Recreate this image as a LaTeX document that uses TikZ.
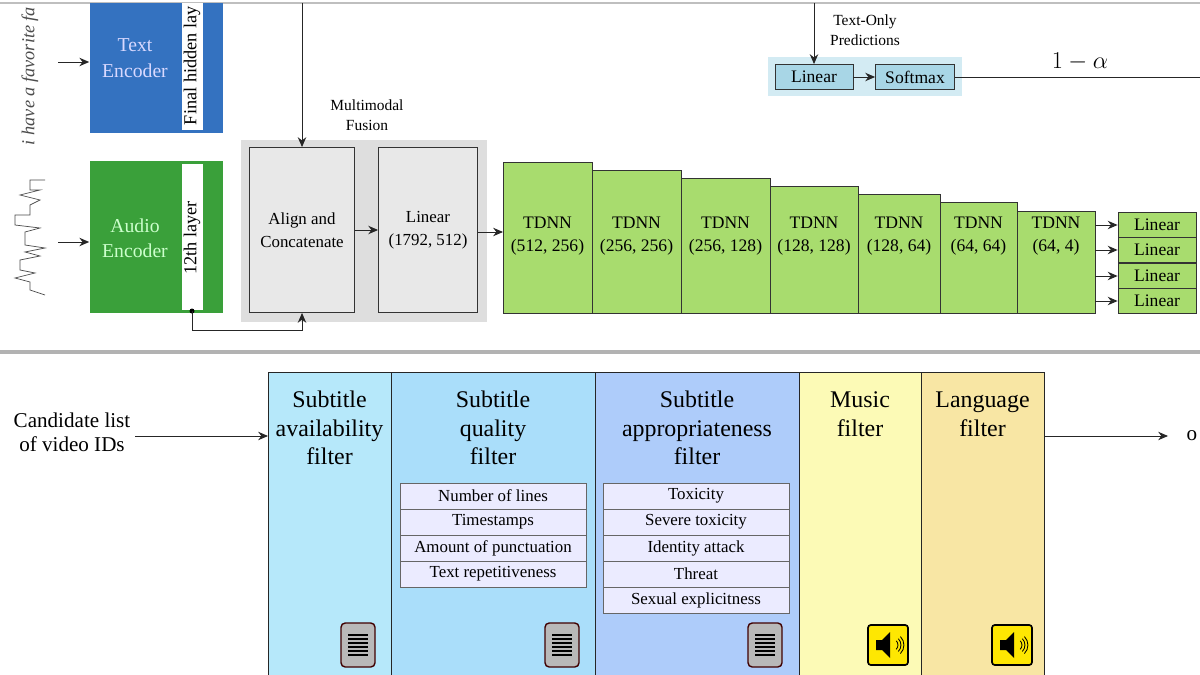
\documentclass[tikz,border=0pt]{standalone}
\usepackage{fontspec}
\setmainfont{Liberation Serif}
\usetikzlibrary{arrows.meta}
\definecolor{textblue}{RGB}{52,114,192}
\definecolor{audiogreen}{RGB}{58,160,58}
\definecolor{tdnngreen}{RGB}{168,220,110}
\definecolor{fusiongray}{RGB}{232,232,232}
\definecolor{predblue}{RGB}{168,214,230}
\definecolor{filtA}{RGB}{182,232,250}
\definecolor{filtB}{RGB}{170,222,250}
\definecolor{filtC}{RGB}{174,204,250}
\definecolor{filtD}{RGB}{252,250,182}
\definecolor{filtE}{RGB}{248,230,164}
\tikzset{
  box/.style={draw=black!80, line width=0.6pt, inner sep=0pt},
  arr/.style={-{Stealth[length=7pt,width=6pt]}, line width=0.7pt, black!85},
  item/.style={draw=black!60, fill=white!92!blue, minimum width=186\pxu, minimum height=26\pxu, inner sep=0pt, font=\fontsize{12}{14}\selectfont},
  ftitle/.style={align=center, font=\fontsize{17}{20}\selectfont},
}
\newcommand{\pxu}{*0.025cm}
\newcommand{\docicon}[2]{%
  \draw[draw=black!75!red, fill=gray!55, rounded corners=3pt, line width=1pt] (#1-17,#2-22) rectangle (#1+17,#2+22);
  \foreach \k in {-10,-6,...,10} \draw[line width=1.2pt] (#1-10,#2+\k) -- (#1+10,#2+\k);}
\newcommand{\spkicon}[2]{%
  \draw[fill=yellow!90!orange, rounded corners=2pt, line width=1.2pt] (#1-20,#2-20) rectangle (#1+20,#2+20);
  \fill (#1-12,#2-5) -- (#1-6,#2-5) -- (#1+2,#2-13) -- (#1+2,#2+13) -- (#1-6,#2+5) -- (#1-12,#2+5) -- cycle;
  \foreach \r in {6,9,12} \draw[line width=0.6pt] (#1+4+\r*0.7,#2-\r*0.7) arc[start angle=-45,end angle=45,radius=\r];}
\begin{document}
\begin{tikzpicture}[x=0.025cm, y=-0.025cm]
  \useasboundingbox (0,0) rectangle (1200,675);
  \clip (0,0) rectangle (1200,675);
  \fill[white] (0,0) rectangle (1200,675);
  % frame lines
  \draw[gray!50, line width=1pt] (0,3) -- (1200,3);
  \draw[gray!60, line width=2.5pt] (0,352) -- (1200,352);

  % encoders
  \node[fill=textblue, minimum width=133\pxu, minimum height=130\pxu] (tenc) at (156,68) {};
  \node[text=white!85!blue, align=center, font=\fontsize{14}{18}\selectfont] at (135,58) {Text\\Encoder};
  \node[fill=white, minimum width=21\pxu, minimum height=127\pxu, inner sep=0pt] (tlay) at (192,67) {};
  \node[rotate=90, anchor=west, font=\fontsize{13}{15}\selectfont] at (192,130) {Final hidden lay};
  \node[fill=audiogreen, minimum width=133\pxu, minimum height=151\pxu] (aenc) at (156,237) {};
  \node[text=white!80!green, align=center, font=\fontsize{14}{18}\selectfont] at (135,238) {Audio\\Encoder};
  \node[fill=white, minimum width=21\pxu, minimum height=145\pxu, inner sep=0pt] (alay) at (192,237) {};
  \node[rotate=90, font=\fontsize{13}{15}\selectfont] at (192,238) {12th layer};

  % inputs
  \node[rotate=90, anchor=west, font=\fontsize{13}{15}\itshape\selectfont, text=black!70] (tin) at (30,150) {i have a favorite fa};
  \draw[black!70, line width=0.5pt] (45,180) -- (30,180) -- (30,190) -- (40,190) -- (20,195) -- (40,200) -- (30,205) -- (30,215)
    -- (15,215) -- (15,225) -- (40,228) -- (25,232) -- (25,245) -- (45,248) -- (25,252) -- (40,256) -- (20,260) -- (20,270)
    -- (35,273) -- (15,278) -- (30,282) -- (30,290) -- (45,295);
  \coordinate (tsrc) at (58,62);
  \coordinate (asrc) at (58,242);
  \draw[arr] (tsrc) -- (tenc.west |- tsrc);
  \draw[arr] (asrc) -- (aenc.west |- asrc);

  % multimodal fusion
  \fill[fusiongray!90!gray] (241,140) rectangle (487,322);
  \node[align=center, font=\fontsize{11}{14}\selectfont] at (367,115) {Multimodal\\Fusion};
  \node[box, fill=fusiongray, minimum width=105\pxu, minimum height=165\pxu, align=center, font=\fontsize{12}{16}\selectfont] (align) at (302,230) {Align and\\Concatenate};
  \node[box, fill=fusiongray, minimum width=99\pxu, minimum height=165\pxu, align=center, font=\fontsize{12}{16}\selectfont] (fuse) at (428,230) {Linear\\(1792, 512)};
  \draw[arr] (align) -- (fuse);
  \coordinate (ttop) at (302,3);
  \draw[arr] (ttop) -- (align.north);
  \coordinate (adot) at (192,311);
  \fill (adot) circle (2.5);
  \draw[arr] (adot) -- (192,330) -| (align.south);

  % TDNN stack
  \foreach \n/\xa/\xb/\yt/\lab in {1/503/592/162/{(512, 256)}, 2/592/681/170/{(256, 256)}, 3/681/770/178/{(256, 128)},
      4/770/858/186/{(128, 128)}, 5/858/940/194/{(128, 64)}, 6/940/1017/202/{(64, 64)}, 7/1017/1095/211/{(64, 4)}}{
    \draw[fill=tdnngreen, draw=black!80, line width=0.6pt] (\xa,\yt) rectangle (\xb,313);
    \node[align=center, font=\fontsize{12.5}{16}\selectfont] (td\n) at ({(\xa+\xb)/2},236) {TDNN\\\lab};
  }
  \draw[arr] (fuse.east |- 0,232) -- (503,232);
  \foreach \i/\yc in {1/225,2/250,3/276,4/301}{
    \node[box, fill=tdnngreen, minimum width=78\pxu, minimum height=25.5\pxu, font=\fontsize{12.5}{15}\selectfont] (lin\i) at (1157,\yc) {Linear};
    \draw[arr] (1095,\yc) -- (lin\i.west);
  }

  % text-only predictions
  \fill[predblue!50] (768,57) rectangle (962,96);
  \node[box, fill=predblue, minimum width=78\pxu, minimum height=25\pxu, font=\fontsize{12.5}{15}\selectfont] (plin) at (814,77) {Linear};
  \node[box, fill=predblue, minimum width=79\pxu, minimum height=25\pxu, font=\fontsize{12.5}{15}\selectfont] (psoft) at (915,77) {Softmax};
  \draw[arr] (plin) -- (psoft);
  \coordinate (ptop) at (814,3);
  \draw[arr] (ptop) -- (plin.north);
  \node[align=center, font=\fontsize{11}{14}\selectfont] at (865,30) {Text-Only\\Predictions};
  \coordinate (pend) at (1200,77);
  \draw[line width=0.7pt, black!85] (psoft.east) -- (pend);
  \node[font=\fontsize{16}{18}\selectfont] at (1080,62) {$1-\alpha$};

  % filter pipeline
  \node[align=center, font=\fontsize{15}{17}\selectfont] (cand) at (72,432) {Candidate list\\of video IDs};
  \foreach \n/\xa/\xb/\col in {1/268/391/filtA, 2/391/595/filtB, 3/595/799/filtC, 4/799/921/filtD, 5/921/1044/filtE}{
    \draw[fill=\col, draw=black!85, line width=0.7pt] (\xa,372) rectangle (\xb,690);
    \coordinate (f\n) at ({(\xa+\xb)/2},372);
  }
  \draw[arr] (cand.east |- 0,436) -- (268,436);
  \coordinate (out) at (1168,436);
  \draw[arr] (1044,436) -- (out);
  \node[font=\fontsize{15}{17}\selectfont] at (1192,436) {o};
  \node[ftitle, anchor=north] at (f1) {\strut\\[-12pt]Subtitle\\availability\\filter};
  \node[ftitle, anchor=north] at (f2) {\strut\\[-12pt]Subtitle\\quality\\filter};
  \node[ftitle, anchor=north] at (f3) {\strut\\[-12pt]Subtitle\\appropriateness\\filter};
  \node[ftitle, anchor=north] at (f4) {\strut\\[-12pt]Music\\filter};
  \node[ftitle, anchor=north] at (f5) {\strut\\[-12pt]Language\\filter};
  \foreach \t [count=\i] in {Number of lines, Timestamps, Amount of punctuation, Text repetitiveness}
    \node[item] (q\i) at (493,{470+26*\i}) {\t};
  \foreach \t [count=\i] in {Toxicity, Severe toxicity, Identity attack, Threat, Sexual explicitness}
    \node[item] (s\i) at (696,{470+26*\i}) {\t};
  \docicon{358}{645}
  \docicon{562}{645}
  \docicon{765}{645}
  \spkicon{888}{645}
  \spkicon{1012}{645}
\end{tikzpicture}
\end{document}
